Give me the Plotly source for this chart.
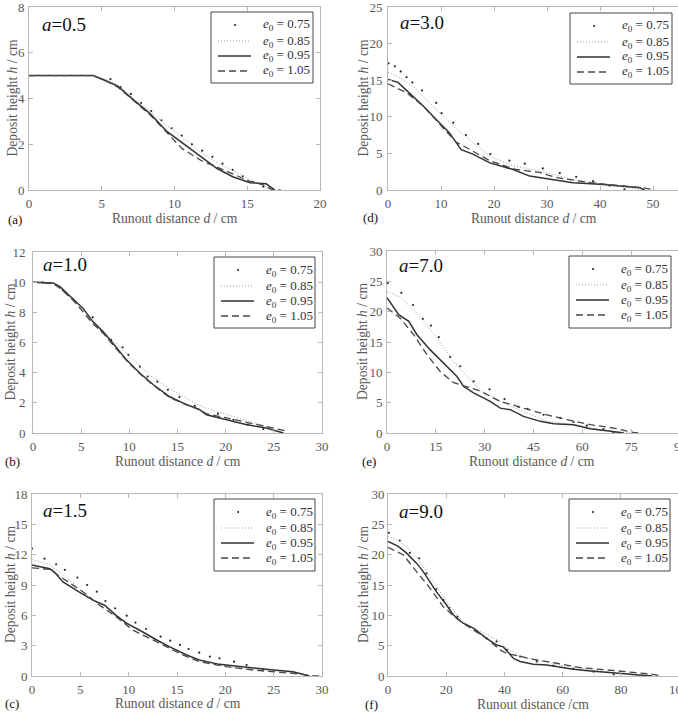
import plotly.graph_objects as go

W, H = 678, 714

# ---------------- DATA ----------------
e0_labels = ["0.75", "0.85", "0.95", "1.05"]
panel_alpha = ["0.5", "1.0", "1.5", "3.0", "7.0", "9.0"]
panel_tags = ["(a)", "(b)", "(c)", "(d)", "(e)", "(f)"]

# (a) a = 0.5
a_d075 = [5.6, 6.3, 7.0, 7.7, 8.4, 9.1, 9.8, 10.5, 11.2, 11.9, 12.6, 13.3, 14.0, 14.7, 15.4, 16.1]
a_h075 = [4.85, 4.5, 4.2, 3.8, 3.45, 3.05, 2.7, 2.38, 2.0, 1.72, 1.45, 1.15, 0.88, 0.6, 0.35, 0.15]
a_d085 = [0, 2, 4.4, 5.2, 6.1, 7.2, 8.3, 9.5, 10.6, 11.8, 12.9, 14.0, 15.2, 16.0, 16.6]
a_h085 = [5, 5, 5, 4.85, 4.6, 4.0, 3.45, 2.8, 2.3, 1.65, 1.2, 0.85, 0.45, 0.25, 0]
a_d095 = [0, 2, 4.4, 5.2, 6.1, 7.2, 8.3, 9.5, 10.6, 11.8, 12.9, 14.0, 15.2, 16.3, 16.9]
a_h095 = [5, 5, 5, 4.8, 4.54, 3.93, 3.35, 2.55, 2.04, 1.45, 0.95, 0.58, 0.32, 0.27, 0]
a_d105 = [0, 2, 4.4, 5.2, 6.1, 7.2, 8.3, 9.5, 10.0, 10.5, 11.8, 12.9, 14.0, 15.2, 16.1, 16.7, 17.3]
a_h105 = [5, 5, 5, 4.8, 4.5, 3.9, 3.3, 2.5, 2.15, 1.82, 1.3, 1.0, 0.72, 0.38, 0.22, 0.02, 0]

# (b) a = 1.0
b_d075 = [1.0, 3.1, 6.2, 7.1, 8.1, 9.3, 9.9, 11.1, 11.9, 12.9, 14.0, 15.2, 16.8, 19.2, 20.8, 22.3, 23.9]
b_h075 = [9.98, 9.47, 7.67, 6.8, 6.17, 5.68, 5.18, 4.4, 3.74, 3.4, 2.86, 2.38, 1.8, 1.28, 0.88, 0.55, 0.26]
b_d085 = [0, 2.1, 2.8, 4.15, 5.2, 6.2, 7.3, 8.65, 10.4, 12.1, 13.8, 15.6, 17.3, 19.0, 20.8, 24.2, 25.6]
b_h085 = [10.0, 9.95, 9.7, 8.9, 8.2, 7.4, 6.75, 5.95, 4.85, 3.85, 3.08, 2.42, 1.8, 1.43, 1.1, 0.44, 0]
b_d095 = [0, 2.1, 2.8, 4.15, 5.2, 6.2, 7.3, 8.3, 9.7, 11.1, 12.5, 14.2, 15.6, 17.3, 18.0, 20.1, 22.2, 24.2, 25.3, 26.0]
b_h095 = [10.0, 9.95, 9.7, 8.9, 8.26, 7.4, 6.7, 5.95, 4.85, 3.96, 3.2, 2.4, 1.98, 1.54, 1.21, 0.88, 0.55, 0.33, 0.11, 0]
b_d105 = [0, 2.1, 2.8, 4.15, 5.2, 6.2, 7.3, 8.3, 9.7, 11.1, 12.5, 14.2, 15.6, 17.3, 18.0, 20.1, 22.2, 24.2, 26.0, 26.3]
b_h105 = [10.0, 9.9, 9.6, 8.8, 8.04, 7.25, 6.6, 5.85, 4.8, 3.92, 3.15, 2.35, 1.95, 1.55, 1.28, 1.0, 0.7, 0.44, 0.18, 0]

# (c) a = 1.5
c_d075 = [0, 1.3, 2.5, 3.4, 4.7, 5.7, 6.7, 7.6, 8.6, 9.8, 10.7, 11.8, 13.3, 14.3, 15.3, 16.2, 17.3, 18.4, 19.4, 20.9, 22.2, 23.9]
c_h075 = [12.6, 11.6, 11.05, 10.5, 9.73, 9.0, 8.34, 7.42, 6.69, 5.97, 5.28, 4.65, 3.89, 3.49, 3.07, 2.67, 2.31, 1.91, 1.75, 1.42, 1.09, 0.66]
c_d085 = [0, 1.83, 3.2, 4.9, 7.0, 8.7, 10.4, 12.2, 13.9, 15.6, 17.3, 20.8, 24.2, 27.7, 28.7]
c_h085 = [11.5, 11.0, 10.0, 8.67, 7.0, 5.87, 4.88, 3.9, 3.07, 2.24, 1.58, 0.86, 0.6, 0.26, 0]
c_d095 = [0, 1.83, 2.3, 3.2, 4.9, 6.3, 7.5, 8.7, 9.8, 11.1, 12.9, 14.2, 16.0, 17.3, 19.4, 21.5, 24.2, 27.0, 27.7, 28.7]
c_h095 = [10.98, 10.6, 10.3, 9.3, 8.3, 7.5, 7.0, 6.0, 5.2, 4.55, 3.56, 2.9, 2.08, 1.58, 1.15, 0.92, 0.66, 0.43, 0.26, 0]
c_d105 = [0, 1.83, 2.5, 3.55, 5.3, 7.0, 8.7, 10.4, 12.2, 13.9, 15.6, 17.3, 20.1, 22.9, 25.6, 27.7, 28.7, 29.8]
c_h105 = [10.7, 10.55, 10.1, 9.4, 8.3, 7.0, 5.87, 4.55, 3.73, 2.9, 2.08, 1.42, 0.92, 0.59, 0.36, 0.2, 0.02, 0]

# (d) a = 3.0
d_d075 = [0.1, 1.3, 2.4, 3.5, 4.6, 6.4, 9.1, 10.1, 12.3, 14.7, 17.0, 19.3, 22.9, 25.8, 29.2, 32.4, 35.5, 38.7, 41.8, 44.6]
d_h075 = [17.3, 16.9, 16.2, 15.4, 14.7, 13.6, 11.9, 10.5, 9.2, 7.5, 6.3, 4.9, 4.0, 3.6, 2.95, 2.3, 1.8, 1.2, 0.6, 0.1]
d_d085 = [0, 1.9, 4.7, 7.2, 9.7, 12.9, 16.0, 19.2, 23.6, 28.6, 34.9, 41.2, 46.2, 48.0]
d_h085 = [16.1, 15.5, 14.2, 12.4, 10.5, 8.3, 6.5, 4.6, 3.3, 2.6, 1.45, 0.77, 0.2, 0]
d_d095 = [0, 1.9, 4.4, 6.6, 9.7, 11.6, 13.8, 16.0, 19.2, 23.6, 26.7, 31.1, 34.9, 39.9, 47.5, 48.4]
d_h095 = [15.1, 14.7, 13.0, 11.5, 9.2, 7.8, 5.5, 4.9, 3.7, 2.8, 1.9, 1.45, 1.0, 0.77, 0.32, 0]
d_d105 = [0, 3.5, 6.6, 9.7, 12.9, 14.8, 19.2, 24.2, 28.6, 31.8, 38.1, 44.3, 48.1, 50.3]
d_h105 = [14.5, 13.3, 11.5, 9.0, 6.5, 5.8, 4.0, 2.8, 2.4, 1.7, 1.0, 0.55, 0.3, 0]

# (e) a = 7.0
e_d075 = [0.2, 4.4, 8.0, 11.0, 13.5, 15.9, 19.4, 22.5, 26.6, 31.5, 36.1, 40.4, 43.2, 48.1, 53.2, 57.3, 61.4, 66.5, 69.6]
e_h075 = [24.7, 23.1, 21.1, 18.8, 17.7, 15.8, 12.5, 11.0, 8.5, 7.2, 5.6, 4.3, 4.0, 3.0, 2.5, 1.8, 1.2, 0.66, 0.1]
e_d085 = [0, 4.1, 8.2, 12.3, 16.4, 20.5, 24.6, 28.7, 33.8, 37.9, 43.0, 49.1, 57.3, 65.5, 73.7, 75.0]
e_h085 = [23.3, 22.4, 20.3, 17.8, 14.8, 11.8, 9.3, 7.1, 5.5, 4.4, 3.3, 1.92, 1.37, 0.55, 0.1, 0]
e_d095 = [0, 3.6, 6.7, 9.2, 13.3, 17.4, 21.5, 23.5, 26.6, 31.7, 34.8, 37.9, 41.9, 47.1, 51.2, 57.3, 62.4, 67.5, 72.7]
e_h095 = [22.3, 19.5, 18.4, 16.2, 13.7, 11.5, 9.3, 7.7, 6.6, 5.2, 4.1, 3.84, 2.74, 1.92, 1.54, 1.37, 0.71, 0.38, 0]
e_d105 = [0, 4.1, 8.2, 12.3, 16.4, 20.5, 24.1, 28.7, 34.8, 41.9, 49.1, 55.3, 62.4, 69.6, 75.7, 77.8]
e_h105 = [20.6, 18.9, 16.2, 12.9, 10.1, 8.3, 7.7, 6.9, 5.2, 4.1, 3.0, 2.2, 1.37, 0.82, 0.1, 0]

# (f) a = 9.0
f_d075 = [0.3, 4.0, 7.5, 10.7, 13.2, 16.6, 19.0, 21.0, 23.9, 27.0, 30.2, 33.9, 37.3, 40.8, 45.4, 51.1, 56.8, 63.7, 70.6, 77.5]
f_h075 = [23.6, 22.3, 20.3, 19.4, 16.9, 14.3, 12.5, 11.2, 9.8, 8.4, 7.5, 6.2, 5.7, 4.3, 3.2, 2.4, 1.7, 1.16, 0.72, 0.28]
f_d085 = [0, 4.0, 7.5, 10.9, 15.5, 20.1, 24.7, 29.3, 33.9, 38.5, 40.8, 45.4, 52.2, 59.1, 66.0, 75.2, 83.2, 86.7]
f_h085 = [23.0, 22.2, 20.8, 18.9, 15.6, 12.3, 9.5, 7.9, 6.9, 5.7, 4.6, 3.2, 2.5, 1.8, 1.27, 0.7, 0.28, 0]
f_d095 = [0, 3.4, 6.3, 9.8, 12.1, 14.4, 16.6, 20.1, 22.4, 25.8, 29.3, 33.9, 37.3, 39.6, 43.1, 45.4, 49.9, 54.5, 59.1, 63.7, 69.5, 75.2, 80.9, 86.7, 90.7]
f_h095 = [22.2, 21.4, 20.3, 18.6, 17.2, 15.6, 13.9, 11.7, 10.1, 8.7, 7.9, 6.2, 5.1, 4.8, 2.9, 2.4, 1.93, 1.82, 1.43, 1.1, 0.83, 0.61, 0.33, 0.17, 0]
f_d105 = [0, 5.2, 9.8, 14.4, 19.0, 23.5, 29.3, 33.9, 38.5, 40.8, 43.1, 49.9, 58.0, 66.1, 75.2, 84.4, 90.1, 94.1]
f_h105 = [21.2, 20.0, 17.2, 14.5, 11.4, 9.5, 7.6, 6.2, 4.3, 3.7, 3.5, 2.75, 2.1, 1.38, 1.0, 0.61, 0.33, 0]

x_ranges = [[0, 20], [0, 30], [0, 30], [0, 54.7], [0, 89.4], [0, 99.6]]
y_ranges = [[0, 8], [0, 12], [0, 18], [0, 25], [0, 30], [0, 30]]
x_dticks = [5, 5, 5, 10, 15, 20]
y_dticks = [2, 2, 3, 5, 5, 5]
x_titles = ["Runout distance <i>d</i> / cm"] * 5 + ["Runout distance /cm"]
y_title = "Deposit height <i>h</i> / cm"

series = [
    [(a_d075, a_h075), (a_d085, a_h085), (a_d095, a_h095), (a_d105, a_h105)],
    [(b_d075, b_h075), (b_d085, b_h085), (b_d095, b_h095), (b_d105, b_h105)],
    [(c_d075, c_h075), (c_d085, c_h085), (c_d095, c_h095), (c_d105, c_h105)],
    [(d_d075, d_h075), (d_d085, d_h085), (d_d095, d_h095), (d_d105, d_h105)],
    [(e_d075, e_h075), (e_d085, e_h085), (e_d095, e_h095), (e_d105, e_h105)],
    [(f_d075, f_h075), (f_d085, f_h085), (f_d095, f_h095), (f_d105, f_h105)],
]

# ---------------- LAYOUT (pixels) ----------------
boxes = [  # left, right, top, bottom of each plot area
    (29, 320, 7, 190),
    (33, 322, 252, 433),
    (32, 322, 494, 676),
    (388, 678, 7, 190),
    (387, 678, 251, 433),
    (388, 678, 494, 676),
]
ylab_standoff = [1, 4, 1, 2, 1, 0]
legend_boxes = [  # left, right, top, bottom
    (211, 313, 12, 83),
    (214, 315, 257, 328),
    (214, 315, 499, 571),
    (570, 672, 13, 84),
    (569, 671, 256, 328),
    (569, 670, 499, 571),
]
legend_rows = [13, 29, 44, 59]
xtitle_pos = [(175, 218), (178, 461), (178, 703), (534, 218), (532, 461), (533, 704)]
ytitle_x = [12, 10, 10, 363, 362, 363]
tag_pos = [(6, 219), (3, 461), (3, 703), (361, 217), (360, 461), (363, 704)]
alpha_pos = [(40, 25), (41, 264), (41, 510), (398, 23), (397, 265), (397, 511)]


def px(x):
    return x / W


def py(y):
    return 1 - y / H


SERIF = "Liberation Serif"
GRAY = "#585858"
AX = "#b8b8b8"

line_styles = [
    None,
    dict(color="#9a9a9a", width=1, dash="1px,2px"),
    dict(color="#333333", width=1.5),
    dict(color="#474747", width=1.3, dash="7px,4px"),
]
DOT_COLOR = "#2a2a2a"

fig = go.Figure()
layout = dict(
    width=W, height=H, margin=dict(l=0, r=0, t=0, b=0),
    paper_bgcolor="white", plot_bgcolor="white",
    font=dict(family=SERIF, color=GRAY, size=13),
    showlegend=False,
)
annotations = []
shapes = []

for i in range(6):
    n = "" if i == 0 else str(i + 1)
    xa, ya = "x" + n, "y" + n
    l, r, t, b = boxes[i]
    for k in range(4):
        dd, hh = series[i][k]
        name = "e0 = " + e0_labels[k]
        if k == 0:
            fig.add_trace(go.Scatter(x=dd, y=hh, xaxis=xa, yaxis=ya, name=name,
                                     mode="markers",
                                     marker=dict(size=2.2, color=DOT_COLOR)))
        else:
            fig.add_trace(go.Scatter(x=dd, y=hh, xaxis=xa, yaxis=ya, name=name,
                                     mode="lines", line=line_styles[k]))
    common = dict(showgrid=False, zeroline=False, showline=True, linecolor=AX,
                  linewidth=1, ticks="inside", ticklen=4,
                  tickcolor=AX, tickwidth=1, automargin=False,
                  ticklabeloverflow="allow",
                  tickfont=dict(family=SERIF, size=13, color=GRAY))
    right_col = i >= 3
    layout["xaxis" + n] = dict(common, domain=[px(l), px(r)], range=x_ranges[i],
                               dtick=x_dticks[i], tick0=0, anchor=ya,
                               mirror="ticks", ticklabelstandoff=1)
    layout["yaxis" + n] = dict(common, domain=[py(b), py(t)], range=y_ranges[i],
                               dtick=y_dticks[i], tick0=0, anchor=xa,
                               mirror=(False if right_col else "ticks"),
                               ticklabelstandoff=ylab_standoff[i])

    # legend box drawn in paper coordinates
    bl, br, bt, bb = legend_boxes[i]
    shapes.append(dict(type="rect", xref="paper", yref="paper", layer="above",
                       x0=px(bl), x1=px(br), y0=py(bb), y1=py(bt),
                       fillcolor="white", line=dict(color="#444444", width=1)))
    for k in range(4):
        cy = bt + legend_rows[k]
        if k == 0:
            shapes.append(dict(type="circle", xref="paper", yref="paper", layer="above",
                               x0=px(bl + 23), x1=px(bl + 25.2), y0=py(cy + 1.1), y1=py(cy - 1.1),
                               fillcolor=DOT_COLOR, line=dict(width=0)))
        else:
            shapes.append(dict(type="line", xref="paper", yref="paper", layer="above",
                               x0=px(bl + 7), x1=px(bl + 40), y0=py(cy), y1=py(cy),
                               line=line_styles[k]))
        annotations.append(dict(text="<i>e</i><sub>0</sub> = " + e0_labels[k],
                                x=px(bl + 50), y=py(cy), xref="paper", yref="paper",
                                showarrow=False, xanchor="left", yanchor="middle",
                                font=dict(family=SERIF, size=13, color="#333333")))

    tx, ty = xtitle_pos[i]
    annotations.append(dict(text=x_titles[i], x=px(tx), y=py(ty), xref="paper", yref="paper",
                            showarrow=False, xanchor="center", yanchor="middle",
                            font=dict(family=SERIF, size=13.6, color=GRAY)))
    annotations.append(dict(text=y_title, x=px(ytitle_x[i]), y=py((t + b) / 2),
                            xref="paper", yref="paper", textangle=-90,
                            showarrow=False, xanchor="center", yanchor="middle",
                            font=dict(family=SERIF, size=13.6, color=GRAY)))
    gx, gy = tag_pos[i]
    annotations.append(dict(text=panel_tags[i], x=px(gx), y=py(gy), xref="paper", yref="paper",
                            showarrow=False, xanchor="left", yanchor="middle",
                            font=dict(family=SERIF, size=13, color="#111111")))
    axp, ayp = alpha_pos[i]
    annotations.append(dict(text="<i>a</i>=" + panel_alpha[i], x=px(axp), y=py(ayp),
                            xref="paper", yref="paper", showarrow=False,
                            xanchor="left", yanchor="middle",
                            font=dict(family=SERIF, size=19, color="#111111")))

# partially visible tick labels at the cropped right edge
annotations.append(dict(text="90", x=px(680), y=py(446), xref="paper", yref="paper",
                        showarrow=False, xanchor="center", yanchor="middle",
                        font=dict(family=SERIF, size=13, color=GRAY)))
annotations.append(dict(text="100", x=px(679), y=py(689), xref="paper", yref="paper",
                        showarrow=False, xanchor="center", yanchor="middle",
                        font=dict(family=SERIF, size=13, color=GRAY)))

layout["annotations"] = annotations
layout["shapes"] = shapes
fig.update_layout(**layout)
fig.write_html("out.html")
